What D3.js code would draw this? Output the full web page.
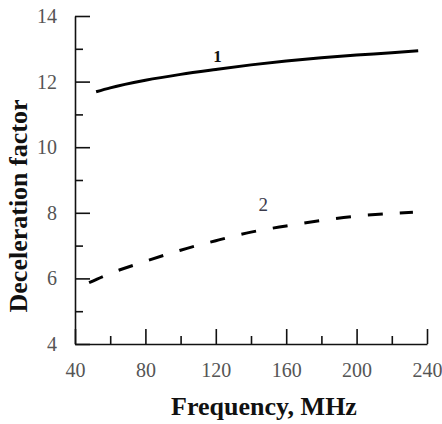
<!DOCTYPE html>
<html>
<head>
<meta charset="utf-8">
<script src="https://cdn.jsdelivr.net/npm/d3@7"></script>
<style>
  html, body { margin: 0; padding: 0; background: #fff; }
  svg { display: block; }
  svg text { font-family: "Liberation Serif", "DejaVu Serif", serif; }
</style>
</head>
<body>
<svg id="chart" width="442" height="424"></svg>
<script>
// ---- Data ----
const xTicks = [40, 80, 120, 160, 200, 240];
const xMinorTicks = [60, 100, 140, 180, 220];
const yTicks = [4, 6, 8, 10, 12, 14];
const yMinorTicks = [5, 7, 9, 11, 13];

const freq1 = [52, 60, 80, 100, 120, 140, 160, 180, 200, 220, 235];
const curve1 = [11.69, 11.81, 12.04, 12.22, 12.37, 12.51, 12.63, 12.73, 12.81, 12.88, 12.94];

const freq2 = [48, 60, 80, 100, 120, 140, 160, 180, 200, 220, 232];
const curve2 = [5.87, 6.15, 6.52, 6.86, 7.15, 7.41, 7.60, 7.77, 7.90, 7.98, 8.02];

const seriesLabels = ["1", "2"];
const xTitle = "Frequency, MHz";
const yTitle = "Deceleration factor";

// ---- Layout ----
const svg = d3.select("#chart");
const x = d3.scaleLinear().domain([40, 240]).range([75, 427]);
const y = d3.scaleLinear().domain([4, 14]).range([344, 16]);

const axisColor = "#111";
const labelColor = "#555";
const serif = "Liberation Serif, DejaVu Serif, serif";

// X axis major
const gx = svg.append("g").attr("transform", `translate(0,${y(4)})`)
  .call(d3.axisBottom(x).tickValues(xTicks).tickSizeInner(-15).tickSizeOuter(0).tickPadding(19).tickFormat(d3.format("d")));
// X axis minor
const gxm = svg.append("g").attr("transform", `translate(0,${y(4)})`)
  .call(d3.axisBottom(x).tickValues(xMinorTicks).tickSizeInner(-8).tickSizeOuter(0).tickFormat(""));
gxm.select(".domain").remove();

// Y axis major
const gy = svg.append("g").attr("transform", `translate(${x(40)},0)`)
  .call(d3.axisLeft(y).tickValues(yTicks).tickSizeInner(-15).tickSizeOuter(0).tickPadding(18).tickFormat(d3.format("d")));
// Y axis minor
const gym = svg.append("g").attr("transform", `translate(${x(40)},0)`)
  .call(d3.axisLeft(y).tickValues(yMinorTicks).tickSizeInner(-8).tickSizeOuter(0).tickFormat(""));
gym.select(".domain").remove();

[gx, gxm, gy, gym].forEach(g => {
  g.attr("font-family", null).attr("font-size", null);
  g.selectAll(".domain").attr("stroke", axisColor).attr("stroke-width", 1.6);
  g.selectAll(".tick line").attr("stroke", axisColor).attr("stroke-width", 1.6);
  g.selectAll("text").style("font-family", serif).style("font-size", "20px").attr("fill", labelColor);
});

// Lines
const line = d3.line().x(d => x(d[0])).y(d => y(d[1])).curve(d3.curveMonotoneX);

svg.append("path")
  .datum(freq1.map((f, i) => [f, curve1[i]]))
  .attr("d", line)
  .attr("fill", "none")
  .attr("stroke", "#000")
  .attr("stroke-width", 3);

svg.append("path")
  .datum(freq2.map((f, i) => [f, curve2[i]]))
  .attr("d", line)
  .attr("fill", "none")
  .attr("stroke", "#000")
  .attr("stroke-width", 3)
  .attr("stroke-dasharray", "15,17");

// Series labels
svg.append("text")
  .attr("x", x(121)).attr("y", y(12.6))
  .attr("text-anchor", "middle")
  .style("font-family", serif).style("font-weight", "bold").style("font-size", "17px")
  .attr("fill", "#111")
  .text(seriesLabels[0]);

svg.append("text")
  .attr("x", x(147)).attr("y", y(8.05))
  .attr("text-anchor", "middle")
  .style("font-family", serif).style("font-size", "19px")
  .attr("fill", "#3a3a4a")
  .text(seriesLabels[1]);

// Axis titles
svg.append("text")
  .attr("x", 264).attr("y", 415)
  .attr("text-anchor", "middle")
  .style("font-family", serif).style("font-weight", "bold").style("font-size", "26px")
  .attr("fill", "#111")
  .text(xTitle);

svg.append("text")
  .attr("transform", "translate(27,206) rotate(-90)")
  .attr("text-anchor", "middle")
  .style("font-family", serif).style("font-weight", "bold").style("font-size", "26px")
  .attr("fill", "#111")
  .text(yTitle);
</script>
</body>
</html>
